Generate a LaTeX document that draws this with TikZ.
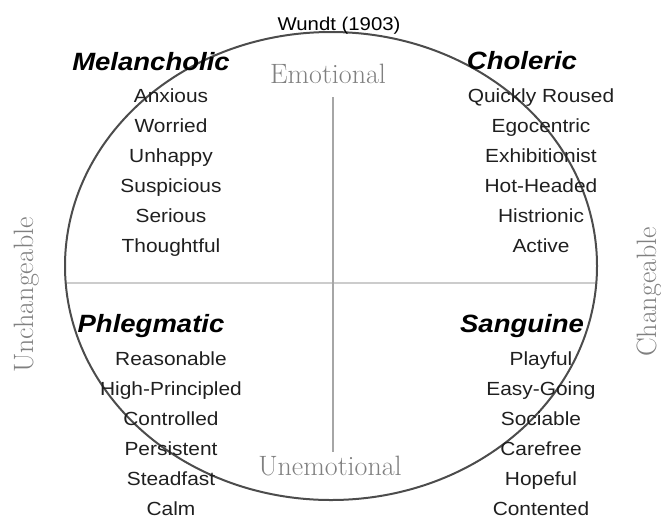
\documentclass[tikz,border=0pt]{standalone}
\usepackage{fontspec}
\setsansfont{Liberation Sans}
% slightly widened sans lettering
\newcommand{\stretchx}[1]{\scalebox{1.1}[1]{#1}}
\begin{document}
\begin{tikzpicture}[x=1pt,y=-1pt,
  trait/.style={font=\sffamily\fontsize{19}{22}\selectfont, anchor=base, inner sep=0pt, text=black!88},
  temper/.style={font=\sffamily\bfseries\itshape\fontsize{25}{28}\selectfont, anchor=base, inner sep=0pt},
  heading/.style={font=\sffamily\fontsize{18.5}{22}\selectfont, anchor=base, inner sep=0pt},
  axislabel/.style={font=\rmfamily\fontsize{28}{32}\selectfont, text=black!50, anchor=base, inner sep=0pt},
  rim/.style={draw=black!70, line width=2pt},
  vaxis/.style={draw=black!35, line width=1.3pt},
  haxis/.style={draw=black!20, line width=1.8pt}
]
\useasboundingbox (0,0) rectangle (661,520);

% axes
\coordinate (vtop) at (333,97);
\coordinate (vbot) at (333,452);
\coordinate (hleft) at (65.8,283);
\coordinate (hright) at (596.2,283);
\draw[haxis] (hleft) -- (hright);
\draw[vaxis] (vtop) -- (vbot);

% outer ellipse
\coordinate (ctr) at (331,266);
\draw[rim] (ctr) ellipse [x radius=266, y radius=234];

% axis labels
\node[heading] (wundt) at (339,30) {\stretchx{Wundt (1903)}};
\node[axislabel] (emo) at (328,83) {Emotional};
\node[axislabel] (unemo) at (330,475) {Unemotional};
\node[axislabel, rotate=90] (unch) at (33,295) {Unchangeable};
\node[axislabel, rotate=90] (chng) at (656,292) {Changeable};

% temperaments
\node[temper] (mel) at (151,70) {\stretchx{Melancholic}};
\node[temper] (chol) at (522,69) {\stretchx{Choleric}};
\node[temper] (phl) at (151,332) {\stretchx{Phlegmatic}};
\node[temper] (sang) at (522,332) {\stretchx{Sanguine}};

% trait lists
\foreach \t [count=\i] in {Anxious,Worried,Unhappy,Suspicious,Serious,Thoughtful}
  \node[trait] (mel\i) at (171,{102+30*(\i-1)}) {\stretchx{\t}};
\foreach \t [count=\i] in {Quickly Roused,Egocentric,Exhibitionist,Hot-Headed,Histrionic,Active}
  \node[trait] (chol\i) at (541,{102+30*(\i-1)}) {\stretchx{\t}};
\foreach \t [count=\i] in {Reasonable,High-Principled,Controlled,Persistent,Steadfast,Calm}
  \node[trait] (phl\i) at (171,{365+30*(\i-1)}) {\stretchx{\t}};
\foreach \t [count=\i] in {Playful,Easy-Going,Sociable,Carefree,Hopeful,Contented}
  \node[trait] (sang\i) at (541,{365+30*(\i-1)}) {\stretchx{\t}};
\end{tikzpicture}
\end{document}
